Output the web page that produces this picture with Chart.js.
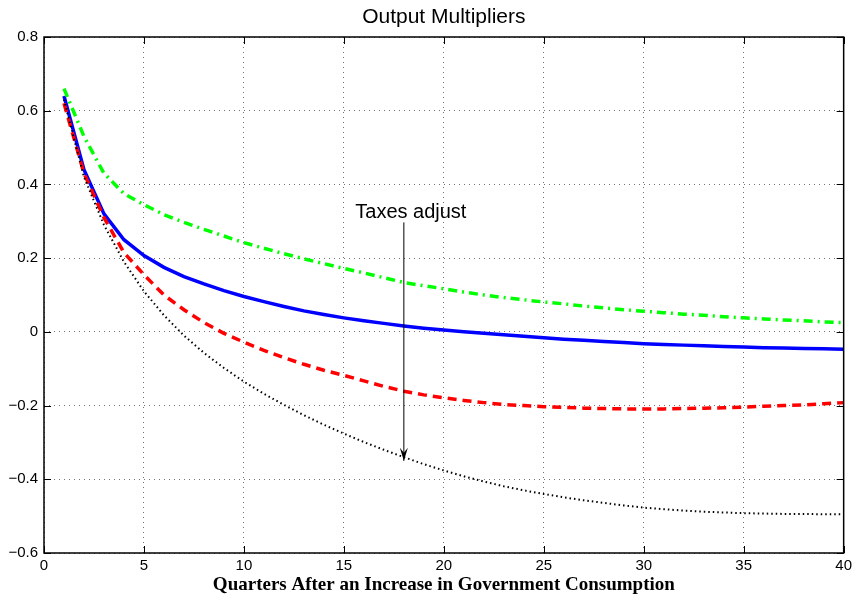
<!DOCTYPE html>
<html>
<head>
<meta charset="utf-8">
<script src="https://cdn.jsdelivr.net/npm/chart.js@4"></script>
<style>
  html, body { margin: 0; padding: 0; background: #fff; }
  #wrap { width: 856px; height: 597px; }
</style>
</head>
<body>
<div id="wrap"><canvas id="multChart" width="856" height="597"></canvas></div>
<script>
// quarters after the shock
const quarters = [1,2,3,4,5,6,7,8,9,10,11,12,13,14,15,16,17,18,19,20,
                  21,22,23,24,25,26,27,28,29,30,31,32,33,34,35,36,37,38,39,40];

// solid blue
const baseline = [0.64,0.44,0.32,0.25,0.207,0.175,0.15,0.13,0.112,0.096,
                  0.082,0.069,0.057,0.047,0.038,0.030,0.023,0.016,0.010,0.005,
                  0.000,-0.004,-0.008,-0.012,-0.016,-0.020,-0.023,-0.026,-0.029,-0.032,
                  -0.034,-0.036,-0.038,-0.040,-0.041,-0.043,-0.044,-0.045,-0.046,-0.047];

// dash-dot green
const slowTaxes = [0.66,0.53,0.43,0.375,0.345,0.318,0.297,0.278,0.26,0.242,
                   0.227,0.212,0.198,0.185,0.172,0.16,0.147,0.134,0.125,0.117,
                   0.108,0.100,0.093,0.087,0.081,0.076,0.070,0.065,0.060,0.056,
                   0.052,0.048,0.045,0.041,0.038,0.035,0.032,0.030,0.027,0.025];

// dashed red
const fastTaxes = [0.62,0.43,0.31,0.215,0.155,0.10,0.06,0.025,-0.004,-0.028,
                   -0.05,-0.07,-0.088,-0.104,-0.118,-0.133,-0.148,-0.161,-0.171,-0.179,
                   -0.186,-0.192,-0.197,-0.200,-0.203,-0.205,-0.207,-0.208,-0.209,-0.209,
                   -0.209,-0.208,-0.207,-0.206,-0.204,-0.202,-0.200,-0.198,-0.195,-0.192];

// dotted black
const fastestTaxes = [0.63,0.42,0.29,0.19,0.11,0.045,-0.01,-0.057,-0.098,-0.135,
                      -0.168,-0.198,-0.226,-0.252,-0.276,-0.299,-0.32,-0.34,-0.359,-0.376,
                      -0.392,-0.406,-0.419,-0.43,-0.44,-0.449,-0.457,-0.464,-0.471,-0.477,
                      -0.481,-0.485,-0.488,-0.49,-0.492,-0.493,-0.494,-0.494,-0.495,-0.495];

const xTicks = [0,5,10,15,20,25,30,35,40];
const yTicks = [-0.6,-0.4,-0.2,0,0.2,0.4,0.6,0.8];

const chartTitle = 'Output Multipliers';

// arrow annotation (data coords)
const noteText = 'Taxes adjust';
const noteTextX = 18.35;
const noteTextY = 0.325;
const arrowX = 18;
const arrowFromY = 0.297;
const arrowToY = -0.35;

function toPoints(vals) {
  return quarters.map((q, i) => ({ x: q, y: vals[i] }));
}

// box with inward ticks, title over the plot, arrow label
const framePlugin = {
  id: 'frame',
  afterDatasetsDraw(chart) {
    const { ctx, chartArea: a, scales: { x, y } } = chart;
    ctx.save();
    ctx.strokeStyle = '#000';
    ctx.lineWidth = 1.5;
    ctx.strokeRect(a.left, a.top, a.right - a.left, a.bottom - a.top);
    ctx.lineWidth = 1;
    ctx.beginPath();
    xTicks.forEach(t => {
      const px = Math.round(x.getPixelForValue(t)) + 0.5;
      ctx.moveTo(px, a.bottom); ctx.lineTo(px, a.bottom - 7);
      ctx.moveTo(px, a.top); ctx.lineTo(px, a.top + 7);
    });
    yTicks.forEach(t => {
      const py = Math.round(y.getPixelForValue(t)) + 0.5;
      ctx.moveTo(a.left, py); ctx.lineTo(a.left + 7, py);
      ctx.moveTo(a.right, py); ctx.lineTo(a.right - 7, py);
    });
    ctx.stroke();

    // title, centred on the axes like matlab does
    ctx.fillStyle = '#000';
    ctx.font = '21px "Liberation Sans", Arial, sans-serif';
    ctx.textAlign = 'center';
    ctx.textBaseline = 'middle';
    ctx.fillText(chartTitle, (a.left + a.right) / 2, 17);

    // annotation
    const ax = x.getPixelForValue(arrowX);
    const y0 = y.getPixelForValue(arrowFromY);
    const y1 = y.getPixelForValue(arrowToY);
    ctx.font = '20px "Liberation Sans", Arial, sans-serif';
    ctx.fillText(noteText, x.getPixelForValue(noteTextX), y.getPixelForValue(noteTextY));
    ctx.lineWidth = 1;
    ctx.beginPath();
    ctx.moveTo(ax, y0);
    ctx.lineTo(ax, y1);
    ctx.stroke();
    ctx.beginPath();
    ctx.moveTo(ax, y1);
    ctx.lineTo(ax - 4, y1 - 13);
    ctx.lineTo(ax, y1 - 8);
    ctx.lineTo(ax + 4, y1 - 13);
    ctx.closePath();
    ctx.fill();
    ctx.restore();
  }
};

const ctx = document.getElementById('multChart');
new Chart(ctx.getContext('2d'), {
  type: 'line',
  data: {
    datasets: [
      {
        label: 'fastest',
        data: toPoints(fastestTaxes),
        borderColor: '#000',
        borderWidth: 2,
        borderDash: [1.5, 3],
        pointRadius: 0,
        tension: 0
      },
      {
        label: 'fast',
        data: toPoints(fastTaxes),
        borderColor: '#ff0000',
        borderWidth: 3.5,
        borderDash: [9, 6],
        pointRadius: 0,
        tension: 0
      },
      {
        label: 'slow',
        data: toPoints(slowTaxes),
        borderColor: '#00ff00',
        borderWidth: 3.5,
        borderDash: [9, 5, 2, 5],
        pointRadius: 0,
        tension: 0
      },
      {
        label: 'baseline',
        data: toPoints(baseline),
        borderColor: '#0000ff',
        borderWidth: 3.5,
        pointRadius: 0,
        tension: 0
      }
    ]
  },
  options: {
    responsive: false,
    animation: false,
    layout: { padding: { left: 0, right: 11, top: 37, bottom: 0 } },
    plugins: {
      legend: { display: false },
      tooltip: { enabled: false },
      title: { display: false }
    },
    scales: {
      x: {
        type: 'linear',
        min: 0,
        max: 40,
        afterBuildTicks: s => { s.ticks = xTicks.map(v => ({ value: v })); },
        afterFit: s => { s.height = 44; },
        grid: { color: 'rgba(0,0,0,0.55)', lineWidth: 1, drawTicks: false },
        border: { display: false, dash: [1, 4] },
        ticks: {
          color: '#000',
          padding: 4,
          maxRotation: 0,
          font: { family: '"Liberation Sans", Arial, sans-serif', size: 15 },
          callback: v => String(v)
        },
        title: {
          display: true,
          text: 'Quarters After an Increase in Government Consumption',
          color: '#000',
          font: { family: '"Liberation Serif", "Times New Roman", serif', size: 19, weight: 'bold', lineHeight: 1 },
          padding: { top: 0, bottom: 2 }
        }
      },
      y: {
        min: -0.6,
        max: 0.8,
        afterBuildTicks: s => { s.ticks = yTicks.map(v => ({ value: v })); },
        afterFit: s => { s.width = 44; },
        grid: { color: 'rgba(0,0,0,0.55)', lineWidth: 1, drawTicks: false },
        border: { display: false, dash: [1, 4] },
        ticks: {
          color: '#000',
          padding: 6,
          font: { family: '"Liberation Sans", Arial, sans-serif', size: 15 },
          callback: v => {
            const r = Math.round(v * 10) / 10;
            if (r === 0) return '0';
            return r.toFixed(1).replace('-', '\u2212');
          }
        }
      }
    }
  },
  plugins: [framePlugin]
});
</script>
</body>
</html>
